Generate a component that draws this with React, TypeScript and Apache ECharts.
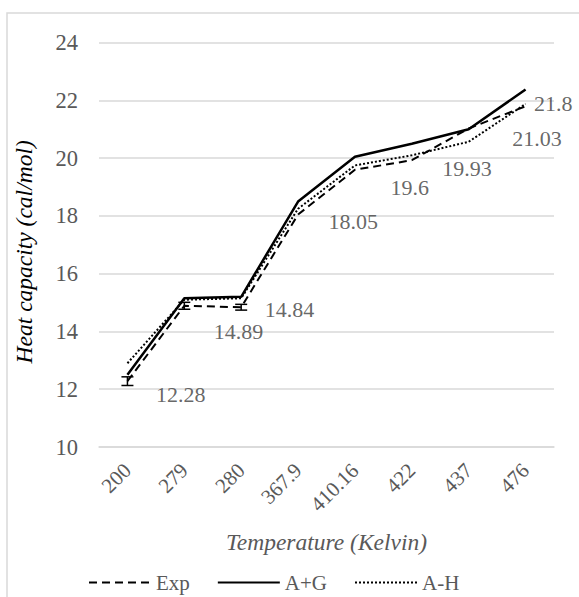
import React, { useEffect, useRef } from "react";
import * as echarts from "echarts";

const categories = ["200", "279", "280", "367.9", "410.16", "422", "437", "476"];
const expValues = [12.28, 14.89, 14.84, 18.05, 19.6, 19.93, 21.03, 21.8];
const expErrors = [0.15, 0.12, 0.1, 0, 0, 0, 0, 0];
const agValues = [12.5, 15.15, 15.2, 18.5, 20.05, 20.5, 21.0, 22.38];
const ahValues = [12.9, 15.1, 15.15, 18.25, 19.75, 20.1, 20.57, 21.88];
const yTicks = { min: 10, max: 24, interval: 2 };

// label offsets (styling only) for each Exp data label
const labelShift: [number, number][] = [
  [28, 13], [29, 26], [23, 2], [30, 7], [35, 18], [30, 8], [43, 10], [8, -3],
];

const FONT = "Liberation Serif";

export default function App() {
  const ref = useRef<HTMLDivElement>(null);
  useEffect(() => {
    if (!ref.current) return;
    const chart = echarts.init(ref.current, undefined, { renderer: "svg" });
    const errData = expValues.map((v, i) => [i, v, expErrors[i]]);
    chart.setOption({
      animation: false,
      graphic: [
        {
          type: "rect",
          shape: { x: 7, y: 13, width: 620, height: 640 },
          style: { fill: "none", stroke: "#d9d9d9", lineWidth: 1.5 },
          silent: true,
        },
      ],
      grid: { left: 99, right: 25, top: 42.7, bottom: 150 },
      legend: {
        top: 567,
        left: 83,
        itemWidth: 62,
        itemHeight: 14,
        itemGap: 27,
        itemStyle: { opacity: 0 },
        textStyle: { fontFamily: FONT, fontSize: 21, color: "#595959" },
        data: ["Exp", "A+G", "A-H"],
      },
      xAxis: {
        type: "category",
        data: categories,
        boundaryGap: true,
        axisLine: { show: true, lineStyle: { color: "#d9d9d9", width: 1.5 } },
        axisTick: { show: false },
        axisLabel: { rotate: 45, margin: 20, fontFamily: FONT, fontSize: 21, color: "#595959" },
        name: "Temperature (Kelvin)",
        nameLocation: "middle",
        nameGap: 83,
        nameTextStyle: { fontFamily: FONT, fontStyle: "italic", fontSize: 23.5, color: "#595959" },
      },
      yAxis: {
        type: "value",
        min: yTicks.min,
        max: yTicks.max,
        interval: yTicks.interval,
        axisLine: { show: false },
        axisTick: { show: false },
        splitLine: { lineStyle: { color: "#d9d9d9", width: 1.5 } },
        axisLabel: { margin: 21, fontFamily: FONT, fontSize: 22.5, color: "#595959" },
        name: "Heat capacity (cal/mol)",
        nameLocation: "middle",
        nameGap: 64,
        nameTextStyle: {
          fontFamily: FONT,
          fontStyle: "italic",
          fontSize: 23.5,
          color: "#000",
          padding: [0, 14, 0, 0],
        },
      },
      series: [
        {
          name: "Exp",
          type: "line",
          data: expValues,
          symbol: "none",
          lineStyle: { color: "#000", width: 2, type: [8, 5] },
          itemStyle: { color: "#000" },
          z: 3,
        },
        {
          name: "A+G",
          type: "line",
          data: agValues,
          symbol: "none",
          lineStyle: { color: "#000", width: 2.5, type: "solid" },
          itemStyle: { color: "#000" },
          z: 2,
        },
        {
          name: "A-H",
          type: "line",
          data: ahValues,
          symbol: "none",
          lineStyle: { color: "#000", width: 2, type: [2, 2] },
          itemStyle: { color: "#000" },
          z: 2,
        },
        {
          name: "ExpLabels",
          type: "scatter",
          data: expValues.map((v, i) => ({
            value: [i, v],
            label: { offset: labelShift[i] },
          })),
          symbolSize: 1,
          itemStyle: { color: "rgba(0,0,0,0)" },
          label: {
            show: true,
            position: "right",
            distance: 0,
            formatter: (p: any) => String(p.value[1]),
            fontFamily: FONT,
            fontSize: 22,
            color: "#404040",
          },
          z: 5,
        },
        {
          name: "ExpErr",
          type: "custom",
          data: errData,
          z: 4,
          renderItem: (params: any, api: any) => {
            const i = api.value(0);
            const v = api.value(1);
            const e = api.value(2);
            if (!e) return null;
            const top = api.coord([i, v + e]);
            const bot = api.coord([i, v - e]);
            const w = 6;
            const st = { stroke: "#000", lineWidth: 1.5 };
            return {
              type: "group",
              children: [
                { type: "line", shape: { x1: top[0], y1: top[1], x2: bot[0], y2: bot[1] }, style: st },
                { type: "line", shape: { x1: top[0] - w, y1: top[1], x2: top[0] + w, y2: top[1] }, style: st },
                { type: "line", shape: { x1: bot[0] - w, y1: bot[1], x2: bot[0] + w, y2: bot[1] }, style: st },
              ],
            };
          },
        },
      ],
    });
    return () => chart.dispose();
  }, []);
  return (
    <div
      ref={ref}
      style={{ position: "absolute", left: 0, top: 0, width: 579, height: 597, background: "#fff" }}
    />
  );
}
